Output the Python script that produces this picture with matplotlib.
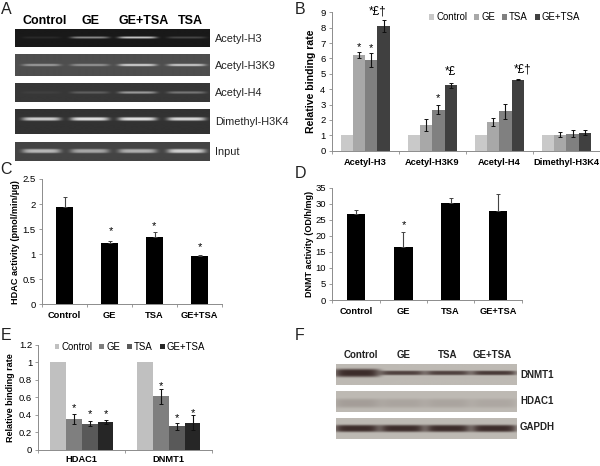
import matplotlib
matplotlib.use('Agg')
import matplotlib.pyplot as plt
import numpy as np

plt.rcParams['font.family'] = ['Liberation Sans', 'DejaVu Sans']

W, H = 600, 466

# panel B
b_groups = ['Acetyl-H3', 'Acetyl-H3K9', 'Acetyl-H4', 'Dimethyl-H3K4']
b_series = ['Control', 'GE', 'TSA', 'GE+TSA']
b_control = [1, 1, 1, 1]
b_ge = [6.2, 1.65, 1.87, 1.05]
b_tsa = [5.9, 2.67, 2.55, 1.1]
b_getsa = [8.1, 4.25, 4.62, 1.18]
b_ge_err = [0.2, 0.4, 0.27, 0.17]
b_tsa_err = [0.45, 0.27, 0.5, 0.22]
b_getsa_err = [0.37, 0.17, 0.05, 0.15]

# panel C
treatments = ['Control', 'GE', 'TSA', 'GE+TSA']
hdac_activity = [1.94, 1.23, 1.34, 0.96]
hdac_err = [0.2, 0.03, 0.1, 0.03]

# panel D
dnmt_activity = [26.7, 16.4, 30.3, 27.8]
dnmt_err = [1.3, 4.8, 1.5, 5.2]

# panel E
e_groups = ['HDAC1', 'DNMT1']
e_control = [1, 1]
e_ge = [0.35, 0.61]
e_tsa = [0.3, 0.27]
e_getsa = [0.32, 0.31]
e_ge_err = [0.06, 0.09]
e_tsa_err = [0.03, 0.04]
e_getsa_err = [0.02, 0.085]

# band strength of each lane on the blots
a_headers = ['Control', 'GE', 'GE+TSA', 'TSA']
a_blots = ['Acetyl-H3', 'Acetyl-H3K9', 'Acetyl-H4', 'Dimethyl-H3K4', 'Input']
a_bands = [[0.08, 0.55, 0.85, 0.22],
           [0.5, 0.45, 0.85, 0.8],
           [0.05, 0.22, 0.55, 0.35],
           [0.85, 0.95, 0.95, 0.9],
           [0.7, 0.6, 0.65, 0.85]]
f_blots = ['DNMT1', 'HDAC1', 'GAPDH']
f_bands = [[1.0, 0.85, 0.85, 0.9],
           [0.2, 0.15, 0.15, 0.13],
           [1.0, 1.0, 1.0, 1.0]]


def px_axes(fig, x0, x1, ytop, ybot):
    return fig.add_axes([x0 / W, 1 - ybot / H, (x1 - x0) / W, (ybot - ytop) / H])


def px_text(fig, x, y, s, **kw):
    kw.setdefault('va', 'center')
    fig.text(x / W, 1 - y / H, s, **kw)


def style_axes(ax, pad=5):
    for side in ['top', 'right']:
        ax.spines[side].set_visible(False)
    for side in ['left', 'bottom']:
        ax.spines[side].set_color('#8c8c8c')
        ax.spines[side].set_linewidth(0.7)
    ax.tick_params(axis='y', labelsize=6.8, length=2.5, width=0.6, color='#8c8c8c', pad=2)
    ax.tick_params(axis='x', which='major', length=2.5, width=0.6, color='#8c8c8c', labelbottom=False)
    ax.tick_params(axis='x', which='minor', length=0, labelsize=6.7, pad=pad)


def set_groups(ax, names):
    n = len(names)
    ax.set_xlim(0, n)
    ax.set_xticks(np.arange(n + 1))
    ax.set_xticks(np.arange(n) + 0.5, minor=True)
    ax.set_xticklabels(names, minor=True, fontweight='bold')


def gel(fig, box, bands, bg, fg, lanes, half, sigmas, ypos=0.5):
    x0, x1, ytop, ybot = box
    ax = px_axes(fig, x0, x1, ytop, ybot)
    w, h = int((x1 - x0) * 3), int((ybot - ytop) * 3)
    xs = np.linspace(x0, x1, w)
    ys = np.linspace(0, 1, h)
    img = np.ones((h, w, 3)) * np.array(bg)
    for lane, s, sigma in zip(lanes, bands, sigmas):
        across = np.exp(-((xs - lane) / half) ** 6)
        down = np.exp(-((ys - ypos) * (ybot - ytop) / sigma) ** 4)
        amount = s * np.outer(down, across)[:, :, None]
        img = img + (np.array(fg) - img) * amount
    ax.imshow(img / 255, aspect='auto', interpolation='bilinear')
    ax.axis('off')


fig = plt.figure(figsize=(W / 100, H / 100), dpi=100)

# panel letters
for letter, x, y in [('A', 6, 9), ('B', 300, 9), ('C', 6, 169), ('D', 300, 174), ('E', 6, 335), ('F', 300, 335)]:
    px_text(fig, x, y, letter, fontsize=11.5, ha='center', color='#222222')

# A - blots
a_lanes = [41.7, 90, 137.7, 186.7]
a_boxes = [(15.3, 210, 29, 47.3), (15.3, 210, 54.3, 76.3), (15.3, 210, 83.3, 101.7),
           (15.3, 210, 108.7, 134), (15.3, 210, 141.7, 161)]
a_bg = [(25, 25, 25), (78, 78, 78), (55, 55, 55), (50, 50, 50), (68, 68, 68)]
a_sigma = [1.0, 1.2, 1.2, 1.7, 2.0]
a_ypos = [0.5, 0.5, 0.5, 0.42, 0.5]
for i, name in enumerate(a_blots):
    gel(fig, a_boxes[i], a_bands[i], a_bg[i], (235, 235, 235), a_lanes, 19, [a_sigma[i]] * 4, a_ypos[i])
    px_text(fig, 215, (a_boxes[i][2] + a_boxes[i][3]) / 2 + 0.5, name, fontsize=7.8, color='#222222')
for x, name in zip([44.5, 91, 144, 190], a_headers):
    px_text(fig, x, 21, name, fontsize=9, fontweight='bold', ha='center')

# B - relative binding rate
ax = px_axes(fig, 331.7, 600, 12.3, 150.7)
width = 0.182
b_values = [b_control, b_ge, b_tsa, b_getsa]
b_errs = [None, b_ge_err, b_tsa_err, b_getsa_err]
b_colors = ['#c9c9c9', '#a8a8a8', '#808080', '#404040']
x = np.arange(4) + 0.5
for i in range(4):
    ax.bar(x + (i - 1.5) * width, b_values[i], width, color=b_colors[i], label=b_series[i],
           yerr=b_errs[i], error_kw=dict(ecolor='#111111', elinewidth=0.8, capsize=1.6, capthick=0.7))
ax.set_ylim(0, 9)
ax.set_yticks(range(10))
set_groups(ax, b_groups)
style_axes(ax, pad=5)
ax.set_ylabel('Relative binding rate', fontsize=7.6, fontweight='bold', labelpad=3)
ax.legend(loc='upper right', bbox_to_anchor=(0.925, 1.0), ncol=4, frameon=False, fontsize=6.9,
          handlelength=0.5, handleheight=0.5, handletextpad=0.2, columnspacing=0.75, borderpad=0,
          borderaxespad=0)
for bx, by, s, fs in [(0.5 - 0.5 * width, 6.75, '*', 8), (0.5 + 0.5 * width, 6.65, '*', 8),
                      (0.5 + 1.5 * width - 0.09, 9.05, '*£†', 8.5), (1.5 + 0.5 * width, 3.4, '*', 8),
                      (1.5 + 1.5 * width, 5.1, '*£', 8.5), (2.5 + 1.5 * width + 0.07, 5.3, '*£†', 8.5)]:
    ax.text(bx, by, s, fontsize=fs, ha='center', va='center', clip_on=False)

# C - HDAC activity
ax = px_axes(fig, 42, 222, 179, 304.3)
x = np.arange(4) + 0.5
ax.bar(x, hdac_activity, 0.39, color='black', yerr=[[0, 0, 0, 0], hdac_err],
       error_kw=dict(ecolor='#444444', elinewidth=0.8, capsize=1.6, capthick=0.7))
ax.set_ylim(0, 2.5)
ax.set_yticks([0, 0.5, 1, 1.5, 2, 2.5])
ax.set_yticklabels(['0', '0.5', '1', '1.5', '2', '2.5'])
set_groups(ax, treatments)
style_axes(ax, pad=5)
ax.set_ylabel('HDAC activity (pmol/min/µg)', fontsize=6.6, fontweight='bold', labelpad=2)
for bx, by in [(1.53, 1.46), (2.48, 1.57), (3.5, 1.15)]:
    ax.text(bx, by, '*', fontsize=8, ha='center', va='center')

# D - DNMT activity
ax = px_axes(fig, 332.3, 521.7, 187.7, 300)
ax.bar(x, dnmt_activity, 0.4, color='black', yerr=[[0, 0, 0, 0], dnmt_err],
       error_kw=dict(ecolor='#444444', elinewidth=0.8, capsize=1.6, capthick=0.7))
ax.set_ylim(0, 35)
ax.set_yticks(range(0, 36, 5))
set_groups(ax, treatments)
style_axes(ax, pad=5)
ax.set_ylabel('DNMT activity (OD/h/mg)', fontsize=6.5, fontweight='bold', labelpad=1)
ax.text(1.52, 23.5, '*', fontsize=8, ha='center', va='center')

# E - relative binding rate
ax = px_axes(fig, 38.3, 212.3, 345, 449.7)
width = 0.182
e_values = [e_control, e_ge, e_tsa, e_getsa]
e_errs = [None, e_ge_err, e_tsa_err, e_getsa_err]
e_colors = ['#c0c0c0', '#7f7f7f', '#595959', '#262626']
x = np.arange(2) + 0.5
for i in range(4):
    ax.bar(x + (i - 1.5) * width, e_values[i], width, color=e_colors[i], label=b_series[i],
           yerr=e_errs[i], error_kw=dict(ecolor='#111111', elinewidth=0.8, capsize=1.6, capthick=0.7))
ax.set_ylim(0, 1.2)
ax.set_yticks([0, 0.2, 0.4, 0.6, 0.8, 1, 1.2])
ax.set_yticklabels(['0', '0.2', '0.4', '0.6', '0.8', '1', '1.2'])
set_groups(ax, e_groups)
style_axes(ax, pad=3.5)
ax.set_ylabel('Relative binding rate', fontsize=6.5, fontweight='bold', labelpad=3)
ax.legend(loc='upper right', bbox_to_anchor=(0.958, 1.03), ncol=4, frameon=False, fontsize=6.9,
          handlelength=0.5, handleheight=0.5, handletextpad=0.2, columnspacing=0.75, borderpad=0,
          borderaxespad=0)
for bx, by in [(0.5 - 0.5 * width, 0.48), (0.5 + 0.5 * width, 0.41), (0.5 + 1.5 * width, 0.41),
               (1.5 - 0.5 * width, 0.73), (1.5 + 0.5 * width, 0.36), (1.5 + 1.5 * width, 0.42)]:
    ax.text(bx, by, '*', fontsize=8, ha='center', va='center', clip_on=False)

# F - blots
f_lanes = [356.7, 401.7, 447.3, 493.3]
f_boxes = [(336, 516, 363.7, 385), (336, 516, 390.7, 412), (336, 516, 418, 439.3)]
f_sigma = [[4.0, 2.2, 2.2, 2.2], [4.5, 4.5, 4.5, 4.5], [3.5, 3.5, 3.5, 3.5]]
f_ypos = [0.45, 0.6, 0.52]
for i, name in enumerate(f_blots):
    gel(fig, f_boxes[i], f_bands[i], (190, 186, 180), (60, 44, 42), f_lanes, 23, f_sigma[i], f_ypos[i])
for y, name in zip([375, 400.5, 426.5], f_blots):
    px_text(fig, 520, y, name, fontsize=7, fontweight='bold', color='#222222')
for bx, name in zip([360.5, 404, 447.5, 492.5], treatments):
    px_text(fig, bx, 355, name, fontsize=7, fontweight='bold', ha='center', color='#222222')

plt.savefig('out.png', dpi=100)
plt.close()
